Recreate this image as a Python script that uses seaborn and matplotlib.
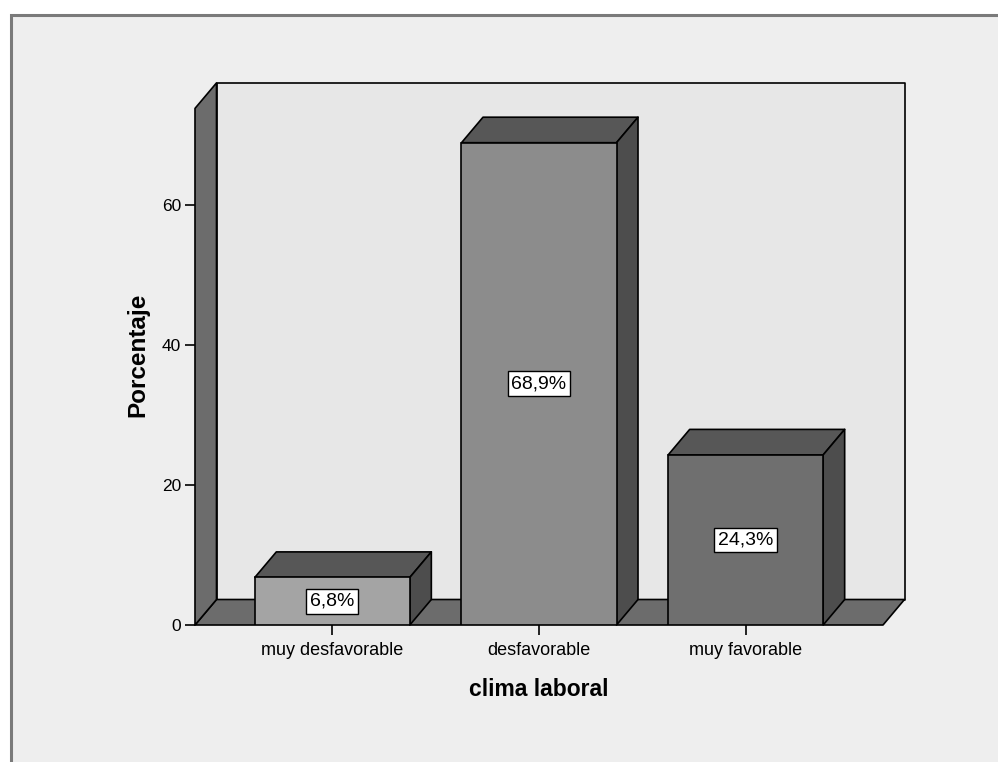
import matplotlib
matplotlib.use("Agg")
import matplotlib.pyplot as plt
from matplotlib.patches import Polygon, Rectangle
import seaborn as sns
import pandas as pd

categories = ["muy desfavorable", "desfavorable", "muy favorable"]
values = [6.8, 68.9, 24.3]
value_labels = ["6,8%", "68,9%", "24,3%"]
yticks = [0, 20, 40, 60]

front_colors = ["#a4a4a4", "#8c8c8c", "#6f6f6f"]
top_color = "#575757"
side_color = "#4d4d4d"
wall_color = "#6c6c6c"
back_color = "#e7e7e7"

sns.set_theme(style="white")
plt.rcParams["font.family"] = ["Liberation Sans", "DejaVu Sans"]

W, H = 998, 762
fig = plt.figure(figsize=(W / 100, H / 100), dpi=100)
fig.patch.set_facecolor("white")

# outer frame
fig.patches.append(Rectangle((10.5 / W, -0.05), (W + 20) / W, (H - 14.5) / H + 0.05,
                             transform=fig.transFigure, facecolor="#eeeeee",
                             edgecolor="#7a7a7a", linewidth=2.2, zorder=-10))

x_left_px, x_right_px = 195, 883
y0_px, ytop_px = 625, 85
px_per_unit = 7.0
ax = fig.add_axes([x_left_px / W, (H - y0_px) / H,
                   (x_right_px - x_left_px) / W, (y0_px - ytop_px) / H])
ax.set_zorder(1)
ax.patch.set_visible(False)

xmin, xmax = -0.6645, 2.6645
ymax = (y0_px - ytop_px) / px_per_unit
units_per_px_x = (xmax - xmin) / (x_right_px - x_left_px)
dx = 21.5 * units_per_px_x
dy = 25.5 / px_per_unit
wall_top = 73.8

def poly(pts, fc, z):
    p = Polygon(pts, closed=True, facecolor=fc, edgecolor="black",
                linewidth=1.2, zorder=z, clip_on=False, joinstyle="round")
    ax.add_patch(p)

# back wall
poly([(xmin + dx, dy), (xmax + dx, dy), (xmax + dx, wall_top + dy),
      (xmin + dx, wall_top + dy)], back_color, 0.5)
# floor
poly([(xmin, 0), (xmax, 0), (xmax + dx, dy), (xmin + dx, dy)], wall_color, 0.6)
# left wall
poly([(xmin, 0), (xmin, wall_top), (xmin + dx, wall_top + dy), (xmin + dx, dy)],
     wall_color, 0.7)

df = pd.DataFrame({"cat": categories, "val": values})
sns.barplot(data=df, x="cat", y="val", hue="cat", palette=front_colors,
            width=0.75, edgecolor="black", linewidth=1.2, legend=False,
            ax=ax, zorder=3, saturation=1)

hw = 0.375
for i, v in enumerate(values):
    poly([(i - hw, v), (i + hw, v), (i + hw + dx, v + dy), (i - hw + dx, v + dy)],
         top_color, 2)
    poly([(i + hw, 0), (i + hw, v), (i + hw + dx, v + dy), (i + hw + dx, dy)],
         side_color, 2)
    ax.text(i, v / 2, value_labels[i], ha="center", va="center", fontsize=14,
            color="black", zorder=5,
            bbox=dict(boxstyle="square,pad=0.2", facecolor="white",
                      edgecolor="black", linewidth=1))

ax.set_xlim(xmin, xmax)
ax.set_ylim(0, ymax)
for s in ax.spines.values():
    s.set_visible(False)
ax.set_yticks(yticks)
ax.set_yticklabels([str(t) for t in yticks], fontsize=12.5)
ax.set_xticks(range(len(categories)))
ax.set_xticklabels(categories, fontsize=13)
ax.tick_params(axis="both", which="both", direction="out", length=7, width=1.2,
               color="black", labelcolor="black", left=True, bottom=True)
ax.tick_params(axis="y", pad=3)
ax.tick_params(axis="x", pad=5)
ax.set_xlabel("clima laboral", fontsize=16.5, fontweight="bold", labelpad=14,
              color="black")
ax.set_ylabel("Porcentaje", fontsize=17.5, fontweight="bold", labelpad=9,
              color="black")
ax.grid(False)

fig.savefig("out.png", dpi=100)
